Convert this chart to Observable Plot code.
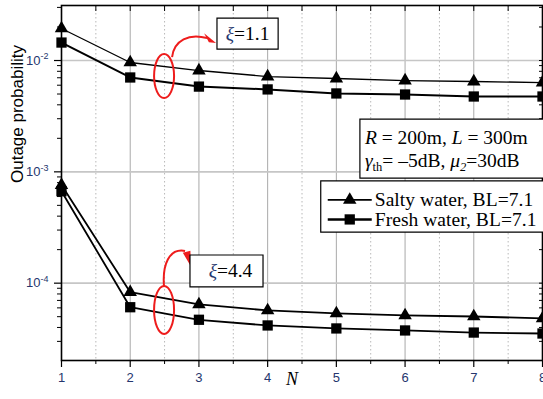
<!DOCTYPE html>
<html><head><meta charset="utf-8">
<script src="https://cdn.jsdelivr.net/npm/d3@7"></script>
<script src="https://cdn.jsdelivr.net/npm/@observablehq/plot@0.6"></script>
<style>
html,body{margin:0;padding:0;background:#fff;overflow:hidden}
#chart{position:relative;width:543px;height:399px}
</style></head><body><div id="chart"></div>
<script>
// ---- data ----
const N = [1, 2, 3, 4, 5, 6, 7, 8];
const saltyXi11 = [0.0194, 0.0096, 0.00813, 0.00718, 0.00689, 0.00661, 0.00648, 0.00634];
const freshXi11 = [0.0145, 0.00704, 0.00583, 0.0055, 0.00506, 0.00495, 0.00475, 0.00475];
const saltyXi44 = [7.6e-4, 8.3e-5, 6.44e-5, 5.69e-5, 5.35e-5, 5.13e-5, 5.02e-5, 4.82e-5];
const freshXi44 = [6.7e-4, 6.08e-5, 4.69e-5, 4.17e-5, 3.92e-5, 3.76e-5, 3.6e-5, 3.53e-5];
const seriesNames = ["Salty water, BL=7.1", "Fresh water, BL=7.1"];
const groupLabels = ["1.1", "4.4"];
const xTicks = [1, 2, 3, 4, 5, 6, 7, 8];
const xHalfTicks = [1.5, 2.5, 3.5, 4.5, 5.5, 6.5, 7.5];
const yDecades = [1e-4, 1e-3, 1e-2];
const yMinor = [3e-5, 4e-5, 5e-5, 6e-5, 7e-5, 8e-5, 9e-5,
  2e-4, 3e-4, 4e-4, 5e-4, 6e-4, 7e-4, 8e-4, 9e-4,
  2e-3, 3e-3, 4e-3, 5e-3, 6e-3, 7e-3, 8e-3, 9e-3, 2e-2, 3e-2];
const yLabel = "Outage probability";
const xLabel = "N";

const rows = (vals, series, group) => vals.map((v, i) => ({N: N[i], value: v, series, group}));
const salty11 = rows(saltyXi11, seriesNames[0], groupLabels[0]);
const fresh11 = rows(freshXi11, seriesNames[1], groupLabels[0]);
const salty44 = rows(saltyXi44, seriesNames[0], groupLabels[1]);
const fresh44 = rows(freshXi44, seriesNames[1], groupLabels[1]);
const salty = salty11.concat(salty44);
const fresh = fresh11.concat(fresh44);

const TRI_R = 5.0, SQ_R = 5.8;
const navy = "#25366e";
const serif = "'Liberation Serif','Times New Roman',serif";
const sans = "'Liberation Sans',Arial,sans-serif";

const plot = Plot.plot({
  width: 543, height: 399,
  marginLeft: 61, marginRight: 1, marginTop: 5, marginBottom: 39,
  style: {fontFamily: sans, background: "#fff", overflow: "visible"},
  x: {domain: [1, 8]},
  y: {type: "log", domain: [2.02e-5, 0.0312]},
  marks: [
    Plot.ruleX(xTicks, {stroke: "#a9a9a9", strokeWidth: 1}),
    Plot.ruleX(xHalfTicks, {stroke: "#b8b8b8", strokeWidth: 1, strokeDasharray: "1.5,2.5"}),
    Plot.ruleY(yDecades, {stroke: "#c6c6c6", strokeWidth: 1.6}),
    Plot.line(salty11, {x: "N", y: "value", stroke: "black", strokeWidth: 1.3}),
    Plot.line(fresh11, {x: "N", y: "value", stroke: "black", strokeWidth: 2}),
    Plot.line(salty44, {x: "N", y: "value", stroke: "black", strokeWidth: 1.8}),
    Plot.line(fresh44, {x: "N", y: "value", stroke: "black", strokeWidth: 1.8}),
    Plot.dot(salty, {x: "N", y: "value", symbol: "triangle", fill: "black", r: TRI_R}),
    Plot.dot(fresh, {x: "N", y: "value", symbol: "square", fill: "black", r: SQ_R}),
    // axes
    Plot.axisX(xTicks, {anchor: "bottom", tickSize: 7, tickPadding: 5, fontSize: 13, fill: navy, stroke: "black", strokeWidth: 1.2, label: null}),
    Plot.axisX(xHalfTicks, {anchor: "bottom", tickSize: 4, tickFormat: () => "", stroke: "black", label: null}),
    Plot.axisX(xTicks.concat(xHalfTicks), {anchor: "top", tickSize: -5, tickFormat: () => "", stroke: "black", label: null}),
    Plot.axisY(yDecades, {anchor: "left", tickSize: 7, tickFormat: () => "", stroke: "black", strokeWidth: 1.2, label: null}),
    Plot.axisY(yMinor, {anchor: "left", tickSize: 4, tickFormat: () => "", stroke: "black", label: null}),
    Plot.axisY(yDecades.concat(yMinor), {anchor: "right", tickSize: -4, tickFormat: () => "", stroke: "black", label: null}),
    Plot.frame({stroke: "black", strokeWidth: 1.6}),
    // y tick labels 10^k
    Plot.text(yDecades, {y: d => d, frameAnchor: "left", text: () => "10", textAnchor: "end", dx: -21, fontSize: 13, fill: navy}),
    Plot.text(yDecades, {y: d => d, frameAnchor: "left", text: d => "-" + Math.round(-Math.log10(d)), textAnchor: "start", dx: -21, dy: -4, fontSize: 9, fill: navy}),
    // axis titles
    Plot.text([yLabel], {frameAnchor: "left", rotate: -90, dx: -43.5, fontSize: 17, fill: "black"}),
    Plot.text([xLabel], {frameAnchor: "bottom", dx: -10, dy: 24, fontSize: 18, fontStyle: "italic", fontFamily: serif, fill: "black"})
  ]
});
document.getElementById("chart").appendChild(plot);

// ---- annotations (positioned through the plot's scales) ----
const X = v => plot.scale("x").apply(v);
const Y = v => plot.scale("y").apply(v);
const svg = d3.select(plot.tagName.toLowerCase() === "svg" ? plot : plot.querySelector("svg"));
const g = svg.append("g").attr("text-anchor", "start");

function box(bx1, bx2, by1, by2) {
  const x1 = X(bx1), x2 = X(bx2), y1 = Y(by1), y2 = Y(by2);
  g.append("path")
    .attr("d", `M${x1},${y1}H${x2}V${y2}H${x1}Z`)
    .attr("fill", "white").attr("stroke", "black").attr("stroke-width", 1.2);
  return {x1, x2, y1, y2};
}

// red ellipses around the curve pairs at N = 2.5, with curved arrows
const ellipses = [
  {N: 2.5, v: 0.00718, rx: 10, ry: 22,
   path: "M8,-19 C10,-36 25,-43 43,-38", head: [[52,-33],[40,-42.7],[44.8,-33.9]]},
  {N: 2.5, v: 5.69e-5, rx: 10, ry: 24,
   path: "M0,-23 C-2,-45 5,-62 21,-59", head: [[27,-43.3],[18.7,-57.3],[26.3,-59.3]]}
];
ellipses.forEach(e => {
  const eg = g.append("g").attr("transform", `translate(${X(e.N)},${Y(e.v)})`);
  eg.append("ellipse").attr("rx", e.rx).attr("ry", e.ry)
    .attr("fill", "none").attr("stroke", "#ee1c1c").attr("stroke-width", 2);
  eg.append("path").attr("d", e.path).attr("fill", "none").attr("stroke", "#ee1c1c").attr("stroke-width", 2);
  eg.append("polygon").attr("points", e.head.map(p => p.join(",")).join(" ")).attr("fill", "#ee1c1c");
});

// xi boxes
const xiBoxes = [
  {label: groupLabels[0], x1: 3.27, x2: 4.16, y1: 0.02383, y2: 0.01255, dx: 0},
  {label: groupLabels[1], x1: 2.877, x2: 3.94, y1: 1.773e-4, y2: 9.15e-5, dx: 4}
];
xiBoxes.forEach(b => {
  const r = box(b.x1, b.x2, b.y1, b.y2);
  const t = g.append("text").attr("x", (r.x1 + r.x2) / 2 + b.dx).attr("y", (r.y1 + r.y2) / 2 + 6)
    .attr("text-anchor", "middle").attr("font-family", serif).attr("font-size", 19.5).attr("fill", "black");
  t.append("tspan").attr("font-style", "italic").attr("fill", navy).text("ξ");
  t.append("tspan").text("=" + b.label);
});

// parameter box
{
  const r = box(5.35, 8.05, 2.95e-3, 8.7e-4);
  const fs = 19.5;
  const t1 = g.append("text").attr("x", r.x1 + 5).attr("y", r.y1 + 25).attr("text-anchor", "start")
    .attr("font-family", serif).attr("font-size", fs).attr("fill", "black");
  t1.append("tspan").attr("font-style", "italic").text("R");
  t1.append("tspan").text(" = 200m, ");
  t1.append("tspan").attr("font-style", "italic").text("L");
  t1.append("tspan").text(" = 300m");
  const t2 = g.append("text").attr("x", r.x1 + 5).attr("y", r.y1 + 47.5).attr("text-anchor", "start")
    .attr("font-family", serif).attr("font-size", fs).attr("fill", "black");
  t2.append("tspan").attr("font-style", "italic").text("γ");
  t2.append("tspan").attr("font-size", 12.5).attr("dy", 4).text("th");
  t2.append("tspan").attr("dy", -4).text("= –5dB, ");
  t2.append("tspan").attr("font-style", "italic").text("μ");
  t2.append("tspan").attr("font-size", 12.5).attr("font-style", "italic").attr("dy", 4).text("2");
  t2.append("tspan").attr("dy", -4).text("=30dB");
}

// legend
{
  const r = box(4.78, 8.05, 8.2e-4, 2.85e-4);
  const symbols = [d3.symbolTriangle, d3.symbolSquare];
  const radii = [TRI_R, SQ_R];
  const widths = [1.3, 2];
  seriesNames.forEach((name, i) => {
    const cy = r.y1 + 19 + i * 19.5;
    g.append("line").attr("x1", r.x1 + 7).attr("x2", r.x1 + 51).attr("y1", cy).attr("y2", cy)
      .attr("stroke", "black").attr("stroke-width", widths[i] + 0.4);
    g.append("path").attr("transform", `translate(${r.x1 + 29},${cy})`)
      .attr("d", d3.symbol(symbols[i], radii[i] * radii[i] * Math.PI)()).attr("fill", "black");
    g.append("text").attr("x", r.x1 + 54).attr("y", cy + 6.5).attr("text-anchor", "start")
      .attr("font-family", serif).attr("font-size", 19.5).attr("letter-spacing", 0.05)
      .attr("fill", "black").text(name);
  });
}
</script></body></html>
